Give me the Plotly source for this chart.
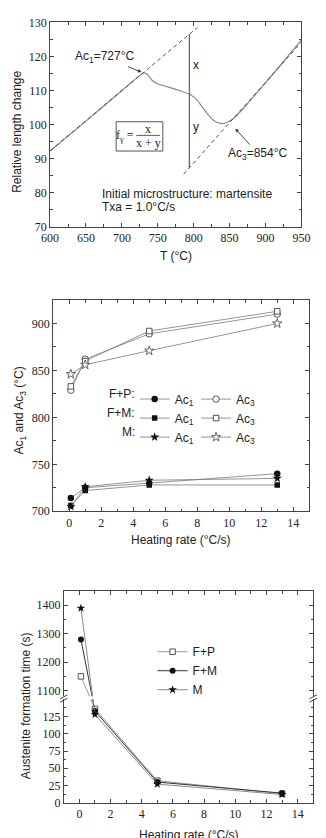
import plotly.graph_objects as go

W, H = 326, 838
SANS = "Liberation Sans"
SERIF = "Liberation Serif"
TXT = "#222222"
AX = "#444444"

# ---------------- data: panel 1 (dilatometry curve) ----------------
T_curve = [600, 650, 700, 727, 731, 736, 742, 749, 757, 765, 780, 794, 803, 811,
           820, 829, 836, 842, 848, 856, 869, 896, 920, 950]
L_curve = [92.2, 101.0, 110.0, 114.8, 115.2, 114.6, 113.0, 112.0, 111.5, 111.0,
           110.0, 108.9, 107.6, 105.4, 102.9, 101.0, 100.4, 100.3, 100.8, 101.9,
           104.7, 111.3, 117.2, 124.9]
tan1_T = [600, 805]
tan1_L = [92.3, 128.5]
tan2_T = [786, 950]
tan2_L = [85.4, 124.2]
lever_T = [794, 794]
lever_L = [87.3, 126.6]

# ---------------- data: panel 2 (Ac1 / Ac3) ----------------
rates = [0.1, 1, 5, 13]
FP_Ac1 = [714, 725, 730, 740]
FM_Ac1 = [706, 722, 728, 728]
M_Ac1 = [705, 726, 733, 735]
FP_Ac3 = [829, 862, 889, 910]
FM_Ac3 = [833, 860, 892, 913]
M_Ac3 = [846, 856, 871, 900]

# ---------------- data: panel 3 (austenite formation time) ----------------
FP_time = [1150, 136, 32, 13]
FM_time = [1280, 133, 30, 14]
M_time = [1390, 128, 27, 12]


def xp(px):
    return px / W


def yp(py):
    return 1 - py / H


# layout geometry (pixels)
P1 = dict(x0=43.5, x1=309.5, y0=15.7, y1=223.3)
P2 = dict(x0=46.8, x1=317.8, y0=298.0, y1=512.8)
P3 = dict(x0=58.0, x1=322.0)
TOP_PX = (594.0, 701.0)
TOP_RNG = (1080, 1450)
BOT_PX = (704.0, 809.3)
BOT_RNG = (0, 150)

fig = go.Figure()

# ---------- panel 1 ----------
fig.add_trace(go.Scatter(x=T_curve, y=L_curve, mode="lines", xaxis="x", yaxis="y",
                         line=dict(color="#8a8a8a", width=1.2, shape="spline", smoothing=0.5),
                         showlegend=False))
fig.add_trace(go.Scatter(x=tan1_T, y=tan1_L, mode="lines", xaxis="x", yaxis="y",
                         line=dict(color="#555555", width=1, dash="4px,3px"), showlegend=False))
fig.add_trace(go.Scatter(x=tan2_T, y=tan2_L, mode="lines", xaxis="x", yaxis="y",
                         line=dict(color="#555555", width=1, dash="4px,3px"), showlegend=False))
fig.add_trace(go.Scatter(x=lever_T, y=lever_L, mode="lines", xaxis="x", yaxis="y",
                         line=dict(color="#666666", width=1.3), showlegend=False))

# ---------- panel 2 ----------
LINE2 = dict(color="#7a7a7a", width=0.8)
p2 = [
    ("legend", "Ac<sub>1</sub>", FP_Ac1, dict(symbol="circle", size=6.5, color="#111111")),
    ("legend", "Ac<sub>1</sub>", FM_Ac1, dict(symbol="square", size=5.5, color="#111111")),
    ("legend", "Ac<sub>1</sub>", M_Ac1, dict(symbol="star", size=7, color="#111111")),
    ("legend2", "Ac<sub>3</sub>", FP_Ac3, dict(symbol="circle", size=6.5, color="white",
                                               line=dict(color="#555555", width=1))),
    ("legend2", "Ac<sub>3</sub>", FM_Ac3, dict(symbol="square", size=5.5, color="white",
                                               line=dict(color="#555555", width=1))),
    ("legend2", "Ac<sub>3</sub>", M_Ac3, dict(symbol="star", size=7, color="white",
                                              line=dict(color="#555555", width=0.9))),
]
for lg, name, vals, mk in p2:
    fig.add_trace(go.Scatter(x=rates, y=vals, mode="lines+markers", name=name,
                             xaxis="x2", yaxis="y2", line=LINE2, marker=mk, legend=lg))

# ---------- panel 3 (broken axis) ----------
def top_px(v):
    return TOP_PX[1] - (v - TOP_RNG[0]) / (TOP_RNG[1] - TOP_RNG[0]) * (TOP_PX[1] - TOP_PX[0])


def bot_px(v):
    return BOT_PX[1] - (v - BOT_RNG[0]) / (BOT_RNG[1] - BOT_RNG[0]) * (BOT_PX[1] - BOT_PX[0])


def px_to_top(p):
    return TOP_RNG[0] + (TOP_PX[1] - p) / (TOP_PX[1] - TOP_PX[0]) * (TOP_RNG[1] - TOP_RNG[0])


def px_to_bot(p):
    return BOT_RNG[0] + (BOT_PX[1] - p) / (BOT_PX[1] - BOT_PX[0]) * (BOT_RNG[1] - BOT_RNG[0])


p3 = [
    ("F+P", FP_time, "#9a9a9a", dict(symbol="square", size=5.5, color="white",
                                     line=dict(color="#555555", width=1))),
    ("F+M", FM_time, "#333333", dict(symbol="circle", size=6, color="#111111")),
    ("M", M_time, "#8a8a8a", dict(symbol="star", size=6.5, color="#111111")),
]
for name, vals, lc, mk in p3:
    # segment crossing the break, drawn in both parts (clipped by each subplot)
    fig.add_trace(go.Scatter(x=rates[:2], y=[vals[0], px_to_top(bot_px(vals[1]))],
                             mode="lines", xaxis="x4", yaxis="y3",
                             line=dict(color=lc, width=1), showlegend=False))
    fig.add_trace(go.Scatter(x=rates[:2], y=[px_to_bot(top_px(vals[0])), vals[1]],
                             mode="lines", xaxis="x3", yaxis="y4",
                             line=dict(color=lc, width=1), showlegend=False))
    fig.add_trace(go.Scatter(x=rates[:1], y=vals[:1], mode="markers", xaxis="x4", yaxis="y3",
                             marker=mk, showlegend=False))
    fig.add_trace(go.Scatter(x=rates[1:], y=vals[1:], mode="lines+markers", name=name,
                             xaxis="x3", yaxis="y4", line=dict(color=lc, width=1),
                             marker=mk, legend="legend3"))


def axis(**kw):
    base = dict(showline=True, linecolor=AX, linewidth=1, ticks="inside", ticklen=4,
                tickcolor=AX, tickwidth=1, mirror="ticks", showgrid=False, zeroline=False,
                tickfont=dict(family=SERIF, size=12, color=TXT))
    base.update(kw)
    return base


MINOR = lambda d: dict(ticks="inside", ticklen=2.5, dtick=d, tickcolor=AX, showgrid=False)

fig.update_layout(
    width=W, height=H, margin=dict(l=0, r=0, t=0, b=0),
    paper_bgcolor="white", plot_bgcolor="white", showlegend=True,
    xaxis=axis(domain=[xp(P1["x0"]), xp(P1["x1"])], range=[600, 950], anchor="y",
               tick0=600, dtick=50, minor=MINOR(25)),
    yaxis=axis(domain=[yp(P1["y1"]), yp(P1["y0"])], range=[70, 130], anchor="x",
               tick0=70, dtick=10, minor=MINOR(5)),
    xaxis2=axis(domain=[xp(P2["x0"]), xp(P2["x1"])], range=[-1, 15], anchor="y2",
                tickvals=[0, 2, 4, 6, 8, 10, 12, 14], minor=MINOR(1)),
    yaxis2=axis(domain=[yp(P2["y1"]), yp(P2["y0"])], range=[700, 925], anchor="x2",
                tickvals=[700, 750, 800, 850, 900], minor=MINOR(25)),
    xaxis3=axis(domain=[xp(P3["x0"]), xp(P3["x1"])], range=[-1, 15], anchor="y4",
                mirror=False, tickvals=[0, 2, 4, 6, 8, 10, 12, 14], minor=MINOR(1)),
    xaxis4=axis(domain=[xp(P3["x0"]), xp(P3["x1"])], range=[-1, 15], anchor="y3",
                matches="x3", side="top", mirror=False, showticklabels=False,
                tickvals=[0, 2, 4, 6, 8, 10, 12, 14], minor=MINOR(1)),
    yaxis3=axis(domain=[yp(TOP_PX[1]), yp(TOP_PX[0])], range=list(TOP_RNG), anchor="x4",
                tickvals=[1100, 1200, 1300, 1400], minor=MINOR(50)),
    yaxis4=axis(domain=[yp(BOT_PX[1]), yp(BOT_PX[0])], range=list(BOT_RNG), anchor="x3",
                tickvals=[0, 25, 50, 75, 100, 125], minor=MINOR(12.5)),
    legend=dict(x=xp(133), y=yp(384), xanchor="left", yanchor="top", itemwidth=30,
                bgcolor="rgba(0,0,0,0)", font=dict(family=SANS, size=12, color=TXT),
                tracegroupgap=0),
    legend2=dict(x=xp(198), y=yp(384), xanchor="left", yanchor="top", itemwidth=30,
                 bgcolor="rgba(0,0,0,0)", font=dict(family=SANS, size=12, color=TXT),
                 tracegroupgap=0),
    legend3=dict(x=xp(152), y=yp(675), xanchor="left", yanchor="middle", itemwidth=30,
                 bgcolor="rgba(0,0,0,0)", font=dict(family=SANS, size=12, color=TXT),
                 tracegroupgap=0),
)

ann = []


def paper_text(text, x, y, size=12, family=SANS, rot=0, xa="center", ya="middle"):
    ann.append(dict(text=text, x=xp(x), y=yp(y), xref="paper", yref="paper", showarrow=False,
                    textangle=rot, xanchor=xa, yanchor=ya,
                    font=dict(family=family, size=size, color=TXT)))


def data_text(text, x, y, ref="", size=12, family=SANS, xa="center", ya="middle"):
    ann.append(dict(text=text, x=x, y=y, xref="x" + ref, yref="y" + ref, showarrow=False,
                    xanchor=xa, yanchor=ya, font=dict(family=family, size=size, color=TXT)))


# axis titles
paper_text("Relative length change", 9, 127.5, rot=-90)
paper_text("T (°C)", 176.5, 253)
paper_text("Ac<sub>1</sub> and Ac<sub>3</sub> (°C)", 12, 410, rot=-90)
paper_text("Heating rate (°C/s)", 182, 542)
paper_text("Austenite formation time (s)", 18, 711, rot=-90)
paper_text("Heating rate (°C/s)", 190, 833, ya="top")

# panel 1 annotations
ann.append(dict(text="Ac<sub>1</sub>=727°C", x=728.5, y=115.3, ax=676, ay=119.8,
                axref="x", ayref="y", xref="x", yref="y", showarrow=True, arrowhead=2,
                arrowsize=0.8, arrowwidth=0.9, arrowcolor="#333333", standoff=1,
                font=dict(family=SANS, size=12, color=TXT)))
ann.append(dict(text="Ac<sub>3</sub>=854°C", x=857, y=99.0, ax=890, ay=91.3,
                axref="x", ayref="y", xref="x", yref="y", showarrow=True, arrowhead=2,
                arrowsize=0.8, arrowwidth=0.9, arrowcolor="#333333", standoff=1,
                font=dict(family=SANS, size=12, color=TXT)))
data_text("x", 803, 117.4)
data_text("y", 803, 99.4)
data_text("f<sub>γ</sub> =", 704, 96.6, family=SERIF)
data_text("x", 736.5, 98.6, family=SERIF)
data_text("x + y", 736.5, 94.6, family=SERIF)
data_text("Initial microstructure: martensite", 670, 79.5, xa="left")
data_text("Txa = 1.0°C/s", 670, 75.8, xa="left")

# panel 2 legend row labels
for lab, yy in [("F+P:", 394), ("F+M:", 413), ("M:", 432)]:
    paper_text(lab, 135, yy, xa="right")

fig.update_layout(annotations=ann)

shapes = [
    dict(type="rect", xref="x", yref="y", x0=692, x1=757, y0=92.2, y1=100.8,
         line=dict(color="#555555", width=1)),
    dict(type="line", xref="x", yref="y", x0=720, x1=753, y0=96.8, y1=96.8,
         line=dict(color="#333333", width=0.8)),
]
# axis-break marks on panel 3
for bx in (P3["x0"], P3["x1"]):
    for dy in (0, 3.5):
        shapes.append(dict(type="line", xref="paper", yref="paper",
                           x0=xp(bx - 4), x1=xp(bx + 4), y0=yp(703.5 + dy), y1=yp(699.5 + dy),
                           line=dict(color=AX, width=1)))
fig.update_layout(shapes=shapes)

fig.write_html("out.html")
